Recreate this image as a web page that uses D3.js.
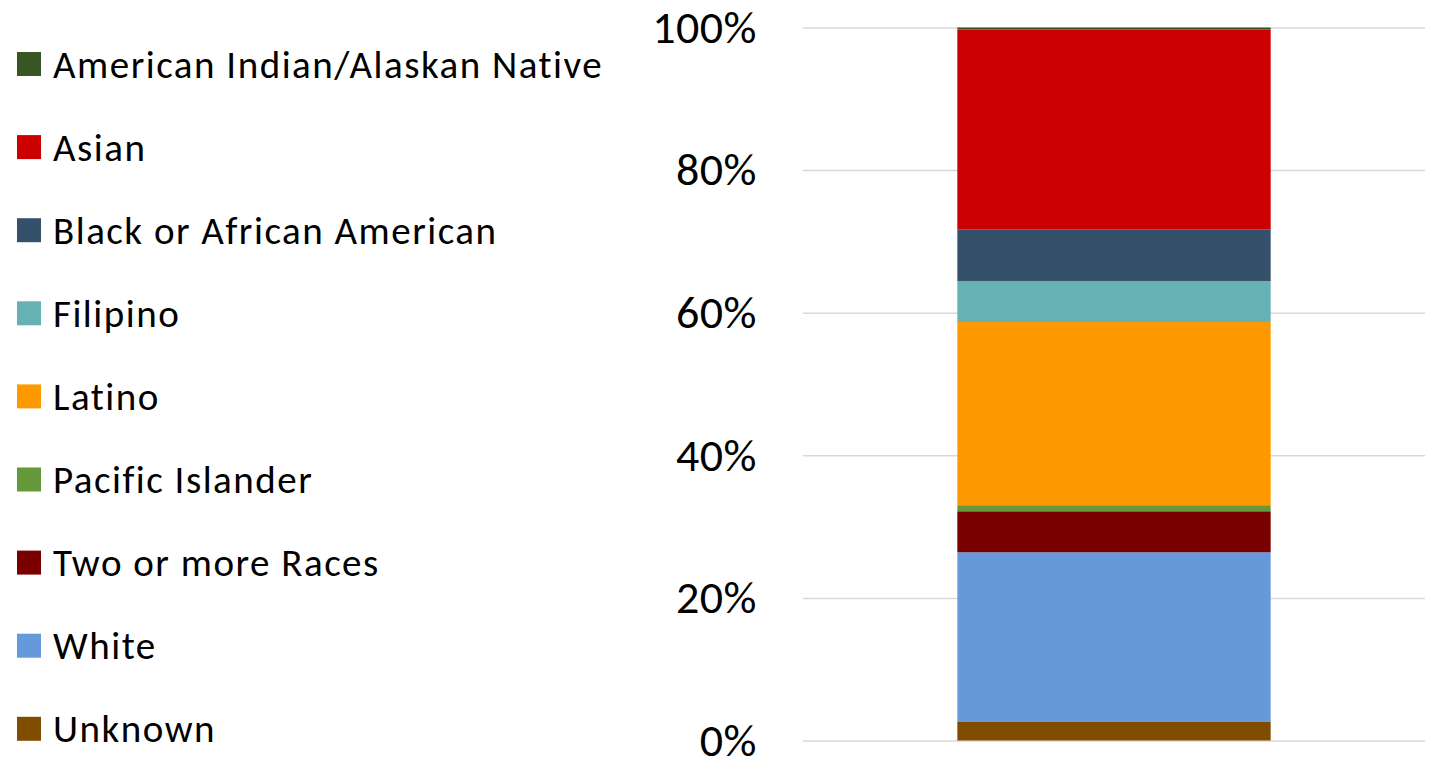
<!DOCTYPE html>
<html>
<head>
<meta charset="utf-8">
<script src="https://cdn.jsdelivr.net/npm/d3@7"></script>
<style>
  body { margin: 0; background: #fff; }
  svg { display: block; }
  text { font-family: Carlito, Calibri, Lato, sans-serif; fill: #000; }
</style>
</head>
<body>
<svg id="chart" width="1437" height="758"></svg>
<script>
// categories, bottom of the stack last
var categories = ["American Indian/Alaskan Native", "Asian", "Black or African American",
  "Filipino", "Latino", "Pacific Islander", "Two or more Races", "White", "Unknown"];
// share of the total, in percent
var shares = [0.3, 28.0, 7.25, 5.75, 25.7, 0.85, 5.75, 23.8, 2.6];
var colors = ["#375623", "#cc0000", "#35506a", "#66b1b3", "#ff9900",
  "#66993a", "#7a0000", "#6699da", "#804d00"];
var yTicks = [0, 0.2, 0.4, 0.6, 0.8, 1];

var svg = d3.select("#chart");

var x = d3.scaleBand()
  .domain(["All"])
  .range([803, 1425])
  .padding(0.33);

var y = d3.scaleLinear()
  .domain([0, 1])
  .range([740.5, 27.5]);

var color = d3.scaleOrdinal().domain(categories).range(colors);

// one row, stacked bottom up (Unknown first)
var row = { group: "All" };
var total = d3.sum(shares);
categories.forEach(function (c, i) { row[c] = shares[i] / total; });

var series = d3.stack()
  .keys(categories.slice().reverse())([row]);

// gridlines + tick labels
var yAxis = svg.append("g")
  .attr("transform", "translate(803,0)")
  .call(d3.axisLeft(y)
    .tickValues(yTicks)
    .tickFormat(d3.format(".0%"))
    .tickSizeInner(-622)
    .tickSizeOuter(0)
    .tickPadding(46));

yAxis.select(".domain").remove();
yAxis.selectAll("line").attr("stroke", "#d9d9d9").attr("stroke-width", 1.5);
yAxis.selectAll("text")
  .attr("font-size", 46)
  .attr("letter-spacing", "0.5px")
  .attr("font-family", "Carlito, Calibri, Lato, sans-serif")
  .attr("fill", "#000");

// bars
svg.append("g")
  .selectAll("rect")
  .data(series)
  .enter().append("rect")
  .attr("x", x("All"))
  .attr("width", x.bandwidth())
  .attr("y", function (d) { return y(d[0][1]); })
  .attr("height", function (d) { return y(d[0][0]) - y(d[0][1]); })
  .attr("fill", function (d) { return color(d.key); });

// legend
var legend = svg.append("g")
  .selectAll("g")
  .data(categories)
  .enter().append("g")
  .attr("transform", function (d, i) { return "translate(17," + (52 + i * 83.1) + ")"; });

legend.append("rect")
  .attr("width", 24)
  .attr("height", 24)
  .attr("fill", function (d) { return color(d); });

legend.append("text")
  .attr("x", 36)
  .attr("y", 12)
  .attr("dy", "0.35em")
  .attr("font-size", 39)
  .attr("letter-spacing", "1.5px")
  .text(function (d) { return d; });
</script>
</body>
</html>
